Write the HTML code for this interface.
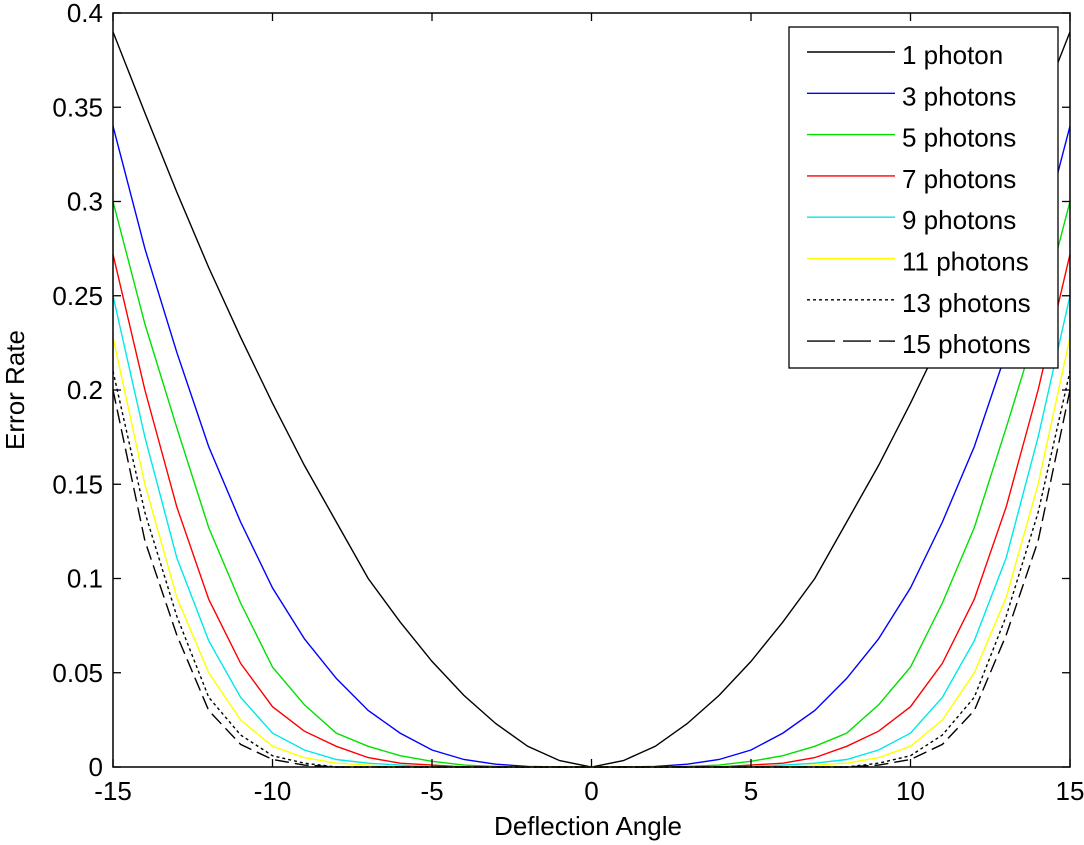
<!DOCTYPE html>
<html><head><meta charset="utf-8"><style>
body{margin:0;background:#fff;}
svg{display:block;font-family:"Liberation Sans",Arial,sans-serif;}
</style></head><body>
<svg id="chart" width="1084" height="845" viewBox="0 0 1084 845">
<rect x="0" y="0" width="1084" height="845" fill="#fff"/>
<g id="plot"></g>
</svg>
<script>
const angles=[-15,-14,-13,-12,-11,-10,-9,-8,-7,-6,-5,-4,-3,-2,-1,0,1,2,3,4,5,6,7,8,9,10,11,12,13,14,15];
const p1=[0.39,0.347,0.305,0.265,0.228,0.193,0.16,0.13,0.1,0.077,0.056,0.038,0.023,0.011,0.0034,0,0.0034,0.011,0.023,0.038,0.056,0.077,0.1,0.13,0.16,0.193,0.228,0.265,0.305,0.347,0.39];
const p3=[0.34,0.275,0.22,0.17,0.13,0.095,0.068,0.047,0.03,0.018,0.009,0.004,0.0015,0.0003,0,0,0,0.0003,0.0015,0.004,0.009,0.018,0.03,0.047,0.068,0.095,0.13,0.17,0.22,0.275,0.34];
const p5=[0.30,0.235,0.18,0.127,0.087,0.053,0.033,0.018,0.011,0.006,0.003,0.001,0.0003,0,0,0,0,0,0.0003,0.001,0.003,0.006,0.011,0.018,0.033,0.053,0.087,0.127,0.18,0.235,0.30];
const p7=[0.272,0.2,0.138,0.089,0.055,0.032,0.019,0.011,0.005,0.002,0.001,0,0,0,0,0,0,0,0,0,0.001,0.002,0.005,0.011,0.019,0.032,0.055,0.089,0.138,0.2,0.272];
const p9=[0.25,0.175,0.111,0.067,0.037,0.018,0.009,0.004,0.002,0.001,0,0,0,0,0,0,0,0,0,0,0,0.001,0.002,0.004,0.009,0.018,0.037,0.067,0.111,0.175,0.25];
const p11=[0.228,0.15,0.09,0.05,0.025,0.011,0.005,0.002,0.001,0,0,0,0,0,0,0,0,0,0,0,0,0,0.001,0.002,0.005,0.011,0.025,0.05,0.09,0.15,0.228];
const p13=[0.21,0.135,0.08,0.037,0.017,0.006,0.002,0,0,0,0,0,0,0,0,0,0,0,0,0,0,0,0,0,0.002,0.006,0.017,0.037,0.08,0.135,0.21];
const p15=[0.2,0.12,0.07,0.03,0.012,0.004,0.001,0,0,0,0,0,0,0,0,0,0,0,0,0,0,0,0,0,0.001,0.004,0.012,0.03,0.07,0.12,0.2];
const seriesNames=["1 photon","3 photons","5 photons","7 photons","9 photons","11 photons","13 photons","15 photons"];
const xTicks=[-15,-10,-5,0,5,10,15];
const yTicks=[0,0.05,0.1,0.15,0.2,0.25,0.3,0.35,0.4];
const yTickLabels=["0","0.05","0.1","0.15","0.2","0.25","0.3","0.35","0.4"];

const L=113,R=1070,T=13,B=767;
const X=v=>L+(v+15)/30*(R-L);
const Y=v=>B-v/0.4*(B-T);
const NS="http://www.w3.org/2000/svg";
const g=document.getElementById('plot');
function mk(tag,attrs,parent){const e=document.createElementNS(NS,tag);for(const k in attrs)e.setAttribute(k,attrs[k]);(parent||g).appendChild(e);return e;}

const series=[p1,p3,p5,p7,p9,p11,p13,p15];
const colors=["#000","#0000ff","#00e000","#ff0000","#00e8e8","#ffff00","#000","#000"];
const dashes=["","","","","","","3,3","14,6"];
const slugs=["1","3","5","7","9","11","13","15"];
series.forEach((s,i)=>{
  const pts=angles.map((a,j)=>X(a).toFixed(1)+","+Y(s[j]).toFixed(1)).join(" ");
  const pl=mk('polyline',{points:pts,fill:"none",stroke:colors[i],"stroke-width":1.4});
  if(dashes[i])pl.setAttribute('stroke-dasharray',dashes[i]);
  
  
});

const frame=mk('rect',{x:L,y:T,width:R-L,height:B-T,fill:"none",stroke:"#000","stroke-width":1.5});



xTicks.forEach(t=>{
  const x=X(t);
  mk('line',{x1:x,y1:B,x2:x,y2:B-8,stroke:"#000","stroke-width":1.3});
  mk('line',{x1:x,y1:T,x2:x,y2:T+8,stroke:"#000","stroke-width":1.3});
  const tx=mk('text',{x:x,y:B+33,"font-size":26,"text-anchor":"middle",fill:"#000"});
  tx.textContent=String(t);
  
  
});
yTicks.forEach((t,i)=>{
  const y=Y(t);
  mk('line',{x1:L,y1:y,x2:L+8,y2:y,stroke:"#000","stroke-width":1.3});
  mk('line',{x1:R,y1:y,x2:R-8,y2:y,stroke:"#000","stroke-width":1.3});
  const tx=mk('text',{x:L-10,y:y+9,"font-size":26,"text-anchor":"end",fill:"#000"});
  tx.textContent=yTickLabels[i];
  
  
});

const xt=mk('text',{x:588,y:835,"font-size":26,"text-anchor":"middle",fill:"#000"});
xt.textContent="Deflection Angle";


const yt=mk('text',{x:0,y:0,"font-size":26,"text-anchor":"middle",fill:"#000",transform:"translate(24,390) rotate(-90)"});
yt.textContent="Error Rate";



const lg=mk('g',{});


mk('rect',{x:789,y:27,width:269,height:341,fill:"#fff",stroke:"#000","stroke-width":1.3},lg);
seriesNames.forEach((n,i)=>{
  const y=52+i*41.3;
  const e=mk('g',{},lg);
  
  
  const ln=mk('line',{x1:807,y1:y,x2:895,y2:y,stroke:colors[i],"stroke-width":1.4},e);
  if(dashes[i])ln.setAttribute('stroke-dasharray',i==7?"28,8":dashes[i]);
  const t=mk('text',{x:902,y:y+12,"font-size":26,fill:"#000"},e);
  t.textContent=n;
});
</script>
</body></html>
